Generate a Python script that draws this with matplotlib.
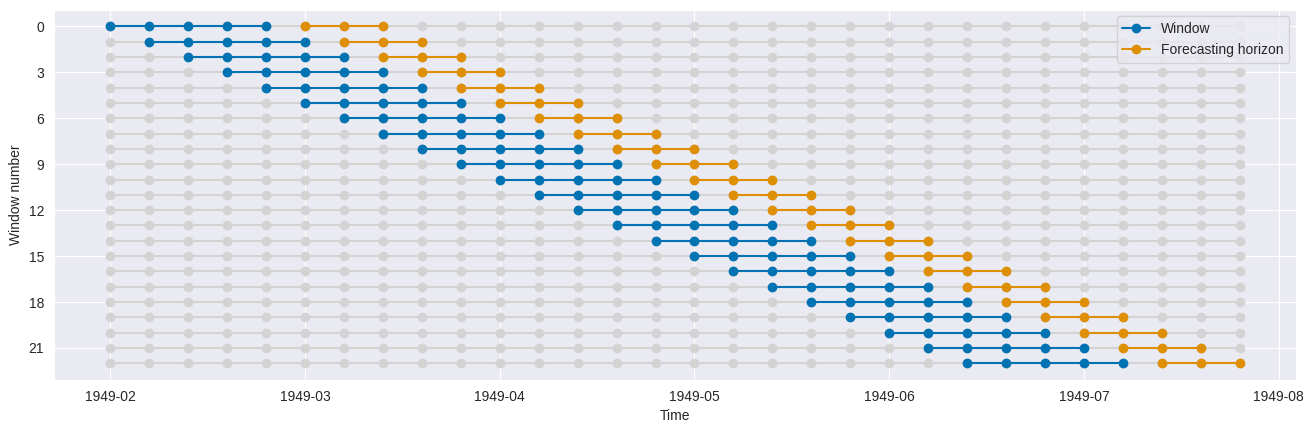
import matplotlib
matplotlib.use('Agg')
import matplotlib.pyplot as plt
import seaborn as sns
import numpy as np

# series / window settings
n_points = 30
n_windows = 23
window_length = 5
fh = [1, 2, 3]
tick_pos = [0, 5, 10, 15, 20, 25, 30]
tick_labels = ['1949-02', '1949-03', '1949-04', '1949-05', '1949-06', '1949-07', '1949-08']

sns.set_style('darkgrid', {'font.family': ['Liberation Sans']})
colors = sns.color_palette('colorblind')

fig, ax = plt.subplots(figsize=(13.12, 4.32), dpi=100)
x = np.arange(n_points)
for i in range(n_windows):
    ax.plot(x, np.full(n_points, i), marker='o', c='lightgray')
    train = np.arange(i, i + window_length)
    test = train[-1] + np.array(fh)
    ax.plot(train, np.full(len(train), i), marker='o', c=colors[0],
            label='Window' if i == 0 else None)
    ax.plot(test, np.full(len(test), i), marker='o', c=colors[1],
            label='Forecasting horizon' if i == 0 else None)

ax.invert_yaxis()
ax.set_yticks(np.arange(0, n_windows, 3))
ax.set_xticks(tick_pos)
ax.set_xticklabels(tick_labels)
ax.set_xlabel('Time')
ax.set_ylabel('Window number')
ax.legend(loc='upper right')
fig.subplots_adjust(left=0.041, right=0.988, top=0.978, bottom=0.12)
fig.savefig('out.png')
